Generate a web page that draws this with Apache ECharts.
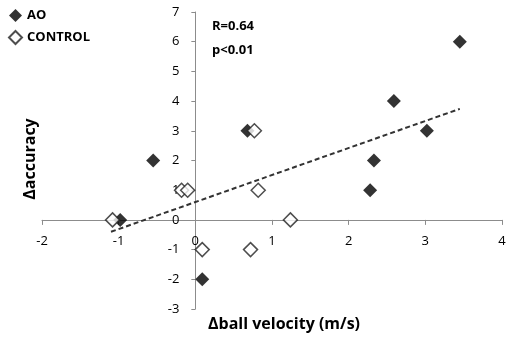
<!DOCTYPE html>
<html>
<head>
<meta charset="utf-8">
<script src="https://cdn.jsdelivr.net/npm/echarts@6/dist/echarts.min.js"></script>
<style>
  html, body { margin: 0; padding: 0; background: #fff; }
  #chart { width: 510px; height: 340px; }
</style>
</head>
<body>
<div id="chart"></div>
<script>
// AO group (filled diamonds)
const aoX = [3.45, 2.59, 3.02, 2.33, 2.28, 0.68, -0.55, -0.98, 0.09];
const aoY = [6, 4, 3, 2, 1, 3, 2, 0, -2];
// CONTROL group (open diamonds)
const ctrlX = [0.77, -0.18, -0.1, 0.82, 1.24, -1.08, 0.09, 0.72];
const ctrlY = [3, 1, 1, 1, 0, 0, -1, -1];
// linear trend line endpoints
const trendX = [-1.1, 3.45];
const trendY = [-0.4, 3.74];

const xTicks = [-2, -1, 0, 1, 2, 3, 4];
const yTicks = [-3, -2, -1, 0, 1, 2, 3, 4, 5, 6, 7];

const zip = (xs, ys) => xs.map((x, i) => [x, ys[i]]);

const chart = echarts.init(document.getElementById('chart'));
const axisGray = '#8c8c8c';
const font = '"Open Sans", "Liberation Sans", sans-serif';

chart.setOption({
  animation: false,
  textStyle: { fontFamily: font },
  grid: { left: 42, right: 8, top: 12, bottom: 31 },
  legend: {
    orient: 'vertical',
    left: 3,
    top: 4,
    itemGap: 8,
    itemWidth: 13,
    itemHeight: 13,
    data: ['AO', 'CONTROL'],
    textStyle: { fontSize: 13, fontWeight: 'bold', color: '#000', fontFamily: font }
  },
  xAxis: {
    type: 'value',
    position: 'bottom',
    min: xTicks[0],
    max: xTicks[xTicks.length - 1],
    interval: 1,
    splitLine: { show: false },
    axisLine: { onZero: false, lineStyle: { color: axisGray, width: 1 } },
    axisTick: { show: true, length: 5, lineStyle: { color: axisGray } },
    axisLabel: { color: '#000', fontSize: 13, margin: 15 }
  },
  yAxis: {
    type: 'value',
    position: 'left',
    min: yTicks[0],
    max: yTicks[yTicks.length - 1],
    interval: 1,
    splitLine: { show: false },
    axisLine: { onZero: false, lineStyle: { color: axisGray, width: 1 } },
    axisTick: { show: true, length: 4, lineStyle: { color: axisGray } },
    axisLabel: { color: '#000', fontSize: 13, margin: 16 }
  },
  graphic: [
    { type: 'text', left: 212, top: 20, style: { text: 'R=0.64', font: 'bold 13px ' + font, fill: '#000' } },
    { type: 'text', left: 212, top: 44, style: { text: 'p<0.01', font: 'bold 13px ' + font, fill: '#000' } },
    { type: 'text', left: 208, top: 316, style: { text: 'Δball velocity (m/s)', font: 'bold 16px ' + font, fill: '#000' } },
    { type: 'text', x: 30, y: 159, rotation: Math.PI / 2,
      style: { text: 'Δaccuracy', font: 'bold 16px ' + font, fill: '#000', align: 'center', verticalAlign: 'middle' } }
  ],
  series: [
    {
      name: 'trend',
      type: 'line',
      data: zip(trendX, trendY),
      symbol: 'none',
      lineStyle: { color: '#333', width: 2, type: [5, 3] },
      z: 1
    },
    {
      name: 'AO',
      type: 'scatter',
      data: zip(aoX, aoY),
      symbol: 'diamond',
      symbolSize: 14,
      itemStyle: { color: '#000' },
      z: 2
    },
    {
      name: 'CONTROL',
      type: 'scatter',
      data: zip(ctrlX, ctrlY),
      symbol: 'diamond',
      symbolSize: 14,
      itemStyle: { color: '#fff', borderColor: '#222', borderWidth: 1.5 },
      z: 3
    }
  ]
});

// move both axes (line, ticks, labels) so they cross at the origin
const origin = chart.convertToPixel({ gridIndex: 0 }, [0, 0]);
const grid = chart.getModel().getComponent('grid').coordinateSystem.getRect();
chart.setOption({
  xAxis: { offset: origin[1] - (grid.y + grid.height) },
  yAxis: { offset: grid.x - origin[0] }
});
</script>
</body>
</html>
